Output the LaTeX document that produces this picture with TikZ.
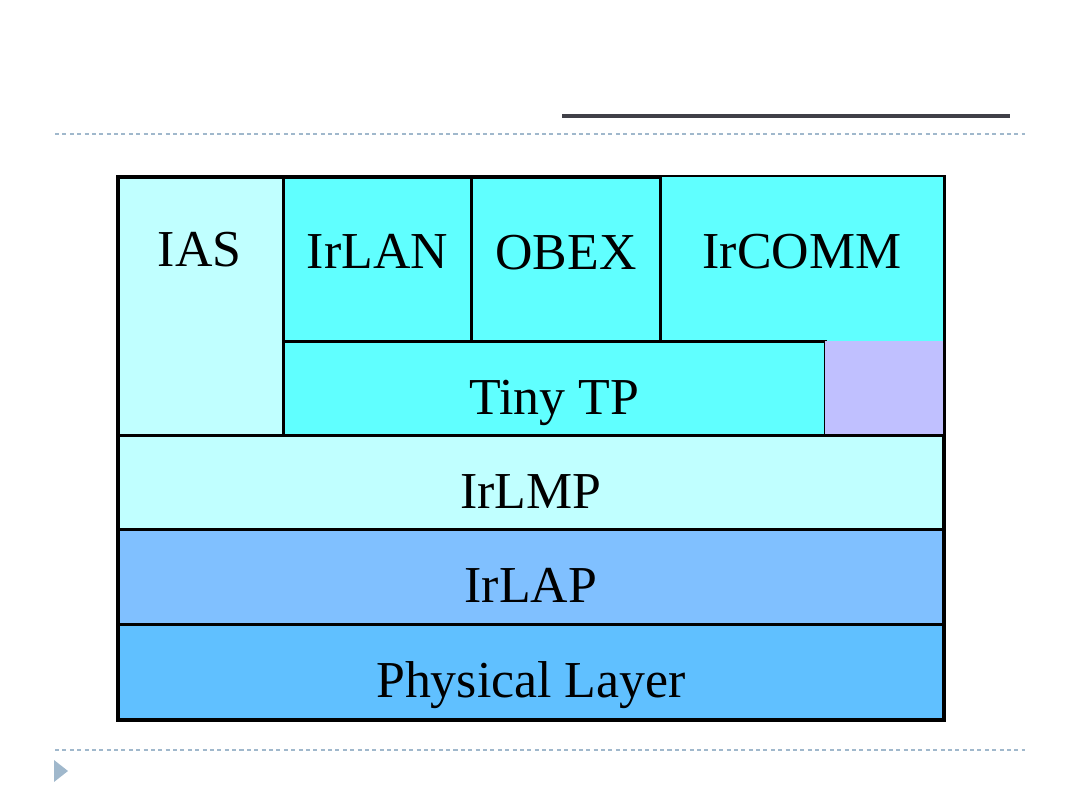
\documentclass[tikz,border=0pt]{standalone}
\usepackage{fontspec}
\setmainfont{Liberation Serif}
\definecolor{iaslight}{HTML}{C0FFFF}
\definecolor{appcyan}{HTML}{60FFFF}
\definecolor{spare}{HTML}{C0C0FF}
\definecolor{lapblue}{HTML}{80C0FF}
\definecolor{physblue}{HTML}{60C0FF}
\definecolor{rulegray}{HTML}{A0B8CC}
\definecolor{titlebar}{HTML}{404048}
\tikzset{
  layer/.style={rectangle, draw=black, line width=1.7pt, inner sep=0pt, anchor=north west,
    font=\fontsize{29.5}{36}\selectfont, text height=29.5pt, text depth=0pt},
  toplayer/.style={layer, text height=19.5pt, text depth=9pt},
  guide/.style={rulegray, line width=0.85pt, dash pattern=on 2.3pt off 1.9pt}
}
\begin{document}
\begin{tikzpicture}[x=0.02cm, y=-0.02cm]
  \useasboundingbox (0,0) rectangle (1080,810);
  % slide furniture
  \draw[titlebar, line width=2pt] (562,116) -- (1010,116);
  \draw[guide] (55,134) -- (1025,134);
  \draw[guide] (55,750) -- (1025,750);
  \fill[rulegray] (54,760) -- (68,771) -- (54,782) -- cycle;
  % upper protocols
  \node[layer, fill=iaslight, minimum width=3.30cm, minimum height=5.16cm] (ias) at (117,176) {};
  \node[font=\fontsize{29.5}{36}\selectfont] (iastext) at (199.5,250) {IAS};
  \node[toplayer, fill=appcyan, minimum width=3.76cm, minimum height=3.28cm] (irlan) at (282,176) {IrLAN};
  \node[toplayer, draw=none, fill=appcyan, minimum width=5.66cm, minimum height=3.28cm] (ircomm) at (659,176) {IrCOMM};
  \node[toplayer, fill=appcyan, minimum width=3.78cm, minimum height=3.30cm] (obex) at (470,176) {OBEX};
  \draw[blue, line width=1.7pt] (obex.south west) -- (obex.south east);
  \node[layer, fill=appcyan, minimum width=10.84cm, minimum height=1.88cm] (tinytp) at (282,340) {Tiny TP};
  \node[layer, draw=none, fill=spare, minimum width=2.36cm, minimum height=1.88cm] (spare) at (824,340) {};
  % lower layers
  \node[layer, fill=iaslight, minimum width=16.5cm, minimum height=1.88cm] (irlmp) at (117,434) {IrLMP};
  \node[layer, fill=lapblue, minimum width=16.5cm, minimum height=1.90cm] (irlap) at (117,528) {IrLAP};
  \node[layer, fill=physblue, minimum width=16.5cm, minimum height=1.90cm] (phys) at (117,623) {Physical Layer};
  % outer frame
  \draw[line width=1.7pt] (ias.north west) rectangle (phys.south east);
\end{tikzpicture}
\end{document}
